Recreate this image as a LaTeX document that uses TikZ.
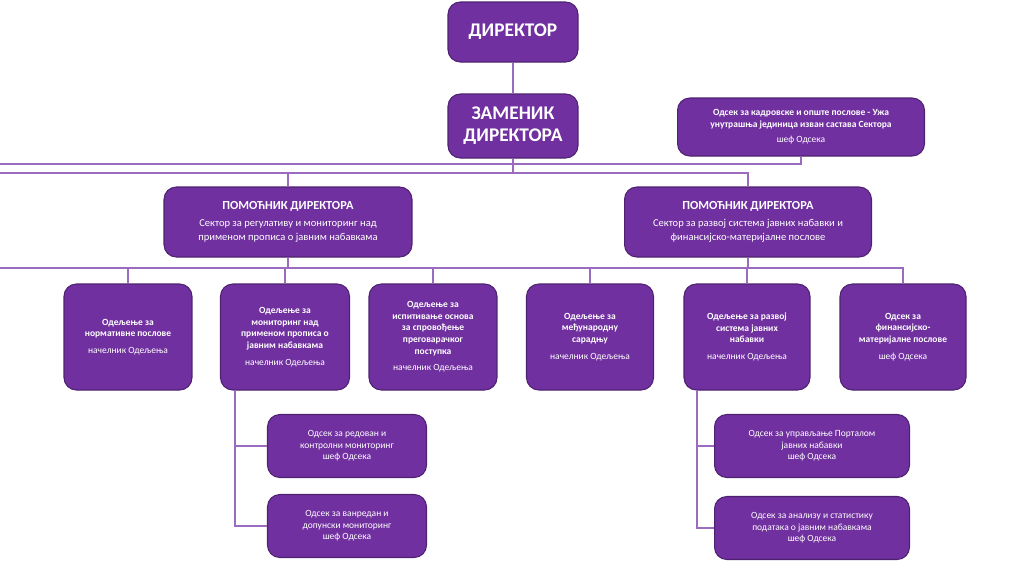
\documentclass[tikz,border=0pt]{standalone}
\usepackage{fontspec}
\setmainfont{Carlito}
\usetikzlibrary{positioning}
\definecolor{ljub}{HTML}{7030A0}
\definecolor{linija}{HTML}{9B6BC0}
\tikzset{
	kutija/.style={draw=ljub!70!black, fill=ljub, rounded corners=7pt, text=white,
		align=center, inner sep=2pt, line width=0.6pt},
	veza/.style={draw=linija, line width=0.9pt},
	sitno/.style={font=\fontsize{5.4}{6.6}\selectfont},
}
\begin{document}
\begin{tikzpicture}[x=0.02cm, y=-0.02cm]
	\useasboundingbox (0,0) rectangle (1024,576);
	% vrh
	\node[kutija, minimum width=2.6cm, minimum height=1.2cm, font=\fontsize{11}{13}\selectfont\bfseries] (dir) at (513,32) {ДИРЕКТОР};
	\node[kutija, minimum width=2.6cm, minimum height=1.28cm, font=\fontsize{11}{12.5}\selectfont\bfseries] (zam) at (513,126) {ЗАМЕНИК\\ДИРЕКТОРА};
	\node[kutija, sitno, minimum width=4.94cm, minimum height=1.16cm] (kadr) at (801,127) {\textbf{Одсек за кадровске и опште послове - Ужа}\\\textbf{унутрашња јединица изван састава Сектора}\\[2pt]шеф Одсека};
	% помоћници
	\node[kutija, minimum width=4.96cm, minimum height=1.4cm, font=\fontsize{6}{8}\selectfont] (pom1) at (288,222) {{\fontsize{7}{9}\selectfont\bfseries ПОМОЋНИК ДИРЕКТОРА}\\[2pt]Сектор за регулативу и мониторинг над\\примeном прописа о јавним набавкама};
	\node[kutija, minimum width=4.94cm, minimum height=1.4cm, font=\fontsize{6}{8}\selectfont] (pom2) at (748,222) {{\fontsize{7}{9}\selectfont\bfseries ПОМОЋНИК ДИРЕКТОРА}\\[2pt]Сектор за развој система јавних набавки и\\финансијско-материјалне послове};
	% одељења
	\node[kutija, sitno, minimum width=2.56cm, minimum height=2.12cm] (od1) at (128,337) {\textbf{Одељење за}\\\textbf{нормативне послове}\\[3pt]начелник Одељења};
	\node[kutija, sitno, minimum width=2.58cm, minimum height=2.12cm] (od2) at (285,337) {\textbf{Одељење за}\\\textbf{мониторинг над}\\\textbf{применом прописа о}\\\textbf{јавним набавкама}\\[3pt]начелник Одељења};
	\node[kutija, sitno, minimum width=2.56cm, minimum height=2.12cm] (od3) at (433,337) {\textbf{Одељење за}\\\textbf{испитивање основа}\\\textbf{за спровођење}\\\textbf{преговарачког}\\\textbf{поступка}\\[3pt]начелник Одељења};
	\node[kutija, sitno, minimum width=2.54cm, minimum height=2.12cm] (od4) at (590,337) {\textbf{Одељење за}\\\textbf{међународну}\\\textbf{сарадњу}\\[3pt]начелник Одељења};
	\node[kutija, sitno, minimum width=2.52cm, minimum height=2.12cm] (od5) at (747,337) {\textbf{Одељење за развој}\\\textbf{система јавних}\\\textbf{набавки}\\[3pt]начелник Одељења};
	\node[kutija, sitno, minimum width=2.52cm, minimum height=2.12cm] (od6) at (903,337) {\textbf{Одсек за}\\\textbf{финансијско-}\\\textbf{материјалне послове}\\[3pt]шеф Одсека};
	% одсеци
	\node[kutija, sitno, minimum width=3.18cm, minimum height=1.26cm] (os1) at (347,446) {Одсек за редован и\\контролни мониторинг\\шеф Одсека};
	\node[kutija, sitno, minimum width=3.18cm, minimum height=1.26cm] (os2) at (347,526) {Одсек за ванредан и\\допунски мониторинг\\шеф Одсека};
	\node[kutija, sitno, minimum width=3.9cm, minimum height=1.26cm] (os3) at (812,446) {Одсек за управљање Порталом\\јавних набавки\\шеф Одсека};
	\node[kutija, sitno, minimum width=3.9cm, minimum height=1.26cm] (os4) at (812,528) {Одсек за анализу и статистику\\података о јавним набавкама\\шеф Одсека};
	% везе
	\coordinate (k1) at (235,390);
	\coordinate (k2) at (697,390);
	\draw[veza] (dir) -- (zam);
	\draw[veza] (zam.south) |- (0,164) -| (kadr.south);
	\draw[veza] (zam.south) |- (0,173) -| (pom1.north);
	\draw[veza] (zam.south) |- (0,173) -| (pom2.north);
	\foreach \c in {od1,od2,od3}
		\draw[veza] (pom1.south) |- (0,268) -| (\c.north);
	\foreach \c in {od4,od5,od6}
		\draw[veza] (pom2.south) |- (0,268) -| (\c.north);
	\draw[veza] (k1) |- (os1.west);
	\draw[veza] (k1) |- (os2.west);
	\draw[veza] (k2) |- (os3.west);
	\draw[veza] (k2) |- (os4.west);
\end{tikzpicture}
\end{document}
